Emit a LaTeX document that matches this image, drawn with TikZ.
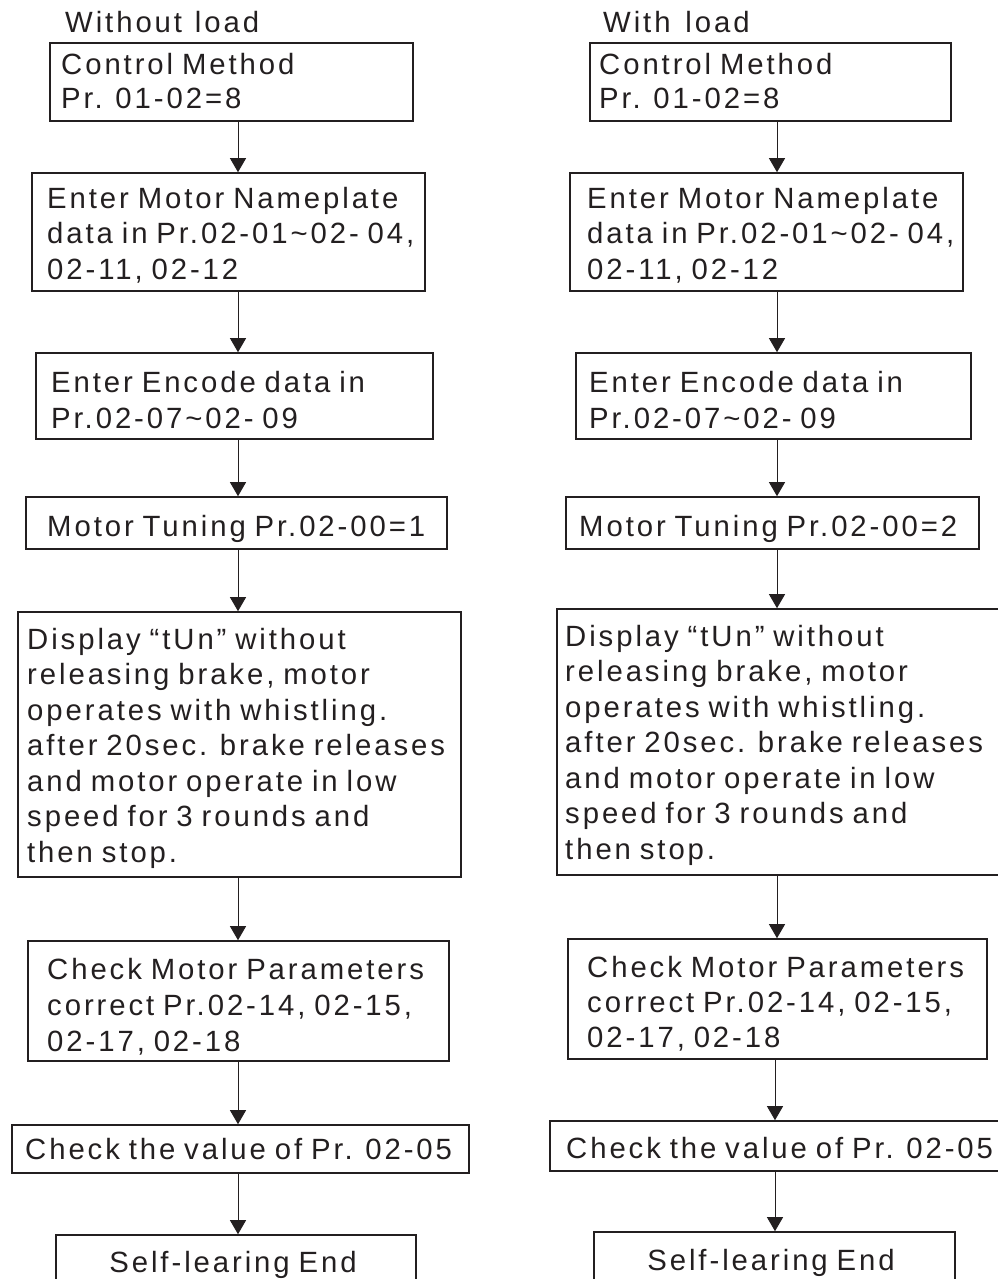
\documentclass[tikz,border=0pt]{standalone}
\usepackage{fontspec}
\setmainfont{Liberation Sans}[LetterSpace=10, WordSpace=0.8]
\usetikzlibrary{arrows.meta,fit}
\definecolor{ink}{HTML}{231F20}
\begin{document}
\begin{tikzpicture}[x=1pt,y=-1pt,
  box/.style={draw=ink, line width=1.6pt, inner sep=0pt},
  lbl/.style={anchor=base west, inner sep=0pt, align=left, text=ink,
    font=\fontsize{29.3}{35.5}\selectfont},
  conn/.style={draw=ink, line width=0.9pt, -{Triangle[length=14pt,width=16pt]}}]
\useasboundingbox (0,0) rectangle (997,1279);
\fill[white] (0,0) rectangle (997,1279);
% ---------------- left column ----------------
\coordinate (axL) at (238,0);
\node[box, fit={(50,43)(413,121)}] (L1) {};
\node[box, fit={(32,173)(425,291)}] (L2) {};
\node[box, fit={(36,353)(433,439)}] (L3) {};
\node[box, fit={(26,497)(447,549)}] (L4) {};
\node[box, fit={(18,612)(461,877)}] (L5) {};
\node[box, fit={(28,941)(449,1061)}] (L6) {};
\node[box, fit={(12,1125)(469,1173)}] (L7) {};
\node[box, fit={(56,1235)(416,1300)}] (L8) {};
\foreach \a/\b in {L1/L2,L2/L3,L3/L4,L4/L5,L5/L6,L6/L7,L7/L8}
  \draw[conn] (\a.south -| axL) -- (\b.north -| axL);
% (base of a multi-line label = baseline of its last line)
\node[lbl] (tL0) at (65,33) {Without\kern4pt{} load};
\node[lbl, font=\fontsize{29.3}{34}\selectfont] (tL1) at (61,109) {Control Method\\Pr. 01-02=8};
\node[lbl] (tL2) at (47,279) {Enter Motor Nameplate\\data in Pr.02-01\textasciitilde02- 04,\\02-11, 02-12};
\node[lbl] (tL3) at (51,428) {Enter Encode data in\\Pr.02-07\textasciitilde02- 09};
\node[lbl] (tL4) at (47,536) {Motor Tuning Pr.02-00=1};
\node[lbl] (tL5) at (27,862) {Display “tUn” without\\releasing brake, motor\\operates with whistling.\\after 20sec. brake releases\\and motor operate in low\\speed for 3 rounds and\\then stop.};
\node[lbl, font=\fontsize{29.3}{36}\selectfont] (tL6) at (47,1051) {Check Motor Parameters\\correct Pr.02-14, 02-15,\\02-17, 02-18};
\node[lbl] (tL7) at (25,1159) {Check the value of Pr. 02-05};
\node[lbl, anchor=base] (tL8) at (233,1272) {Self-learing End};
% ---------------- right column ----------------
\coordinate (axR) at (777,0);
\coordinate (axR2) at (775,0);
\node[box, fit={(590,43)(951,121)}] (R1) {};
\node[box, fit={(570,173)(963,291)}] (R2) {};
\node[box, fit={(576,353)(971,439)}] (R3) {};
\node[box, fit={(566,497)(979,549)}] (R4) {};
\node[box, fit={(557,609)(1010,875)}] (R5) {};
\node[box, fit={(568,939)(987,1059)}] (R6) {};
\node[box, fit={(550,1121)(1010,1171)}] (R7) {};
\node[box, fit={(594,1232)(955,1300)}] (R8) {};
\foreach \a/\b in {R1/R2,R2/R3,R3/R4,R4/R5,R5/R6}
  \draw[conn] (\a.south -| axR) -- (\b.north -| axR);
\foreach \a/\b in {R6/R7,R7/R8}
  \draw[conn] (\a.south -| axR2) -- (\b.north -| axR2);
\node[lbl] (tR0) at (603,33) {With\kern6pt{} load};
\node[lbl, font=\fontsize{29.3}{34}\selectfont] (tR1) at (599,109) {Control Method\\Pr. 01-02=8};
\node[lbl] (tR2) at (587,279) {Enter Motor Nameplate\\data in Pr.02-01\textasciitilde02- 04,\\02-11, 02-12};
\node[lbl] (tR3) at (589,428) {Enter Encode data in\\Pr.02-07\textasciitilde02- 09};
\node[lbl] (tR4) at (579,536) {Motor Tuning Pr.02-00=2};
\node[lbl] (tR5) at (565,859) {Display “tUn” without\\releasing brake, motor\\operates with whistling.\\after 20sec. brake releases\\and motor operate in low\\speed for 3 rounds and\\then stop.};
\node[lbl, font=\fontsize{29.3}{35}\selectfont] (tR6) at (587,1047) {Check Motor Parameters\\correct Pr.02-14, 02-15,\\02-17, 02-18};
\node[lbl] (tR7) at (566,1158) {Check the value of Pr. 02-05};
\node[lbl, anchor=base] (tR8) at (771,1270) {Self-learing End};
\end{tikzpicture}
\end{document}
